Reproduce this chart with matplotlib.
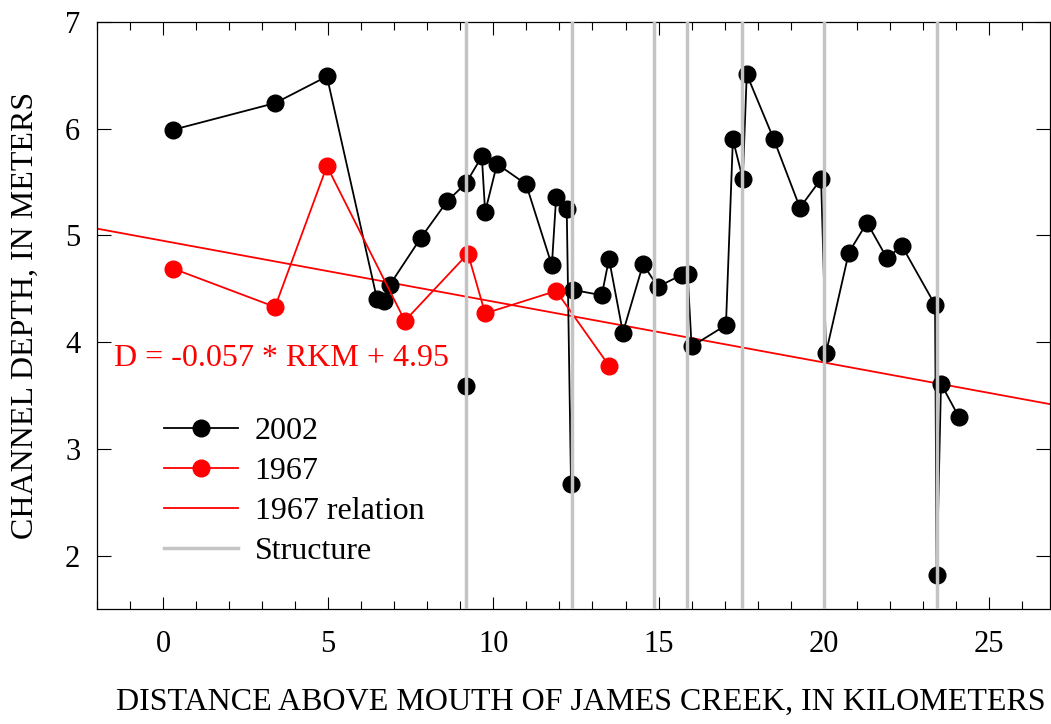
import numpy as np
import matplotlib
matplotlib.use("Agg")
import matplotlib.pyplot as plt
from matplotlib.ticker import MultipleLocator

plt.rcParams['font.family'] = ['Liberation Serif', 'DejaVu Serif']

# 2002 survey: distance above mouth (km) and channel depth (m)
rkm_2002 = [0.30, 3.39, 4.96, 6.48, 6.69, 6.87, 7.81, 8.60, 9.17, 9.65, 9.75, 10.11,
            10.99, 11.77, 11.90, 12.22, 12.35, 12.41, 13.28, 13.50, 13.92, 14.53,
            14.98, 15.70, 15.88, 16.00, 17.04, 17.25, 17.55, 17.67, 18.49, 19.28,
            19.92, 20.07, 20.76, 21.31, 21.91, 22.37, 23.37, 23.42, 23.55, 24.09]
depth_2002 = [5.99, 6.24, 6.49, 4.40, 4.39, 4.54, 4.98, 5.32, 5.49, 5.74, 5.22, 5.67,
              5.48, 4.72, 5.36, 5.25, 2.67, 4.49, 4.44, 4.78, 4.09, 4.73,
              4.52, 4.63, 4.64, 3.96, 4.16, 5.90, 5.53, 6.51, 5.90, 5.26,
              5.53, 3.90, 4.84, 5.12, 4.79, 4.90, 4.35, 1.82, 3.61, 3.30]

# lone 2002 point (not joined)
rkm_2002_single = [9.17]
depth_2002_single = [3.59]

# 1967 survey
rkm_1967 = [0.30, 3.39, 4.96, 7.32, 9.23, 9.75, 11.90, 13.50]
depth_1967 = [4.69, 4.33, 5.65, 4.20, 4.83, 4.27, 4.48, 3.78]

# 1967 relation D = -0.057 * RKM + 4.95
slope = -0.057
intercept = 4.95

# structures
structures = [9.17, 12.37, 14.86, 15.85, 17.53, 20.02, 23.42]

W, H = 1051, 724
fig = plt.figure(figsize=(W / 100, H / 100), dpi=100)
ax = fig.add_axes([97 / W, 1 - 609 / H, (1050 - 97) / W, (609 - 22) / H])

xmin, xmax = -2, 26.85
ax.set_xlim(xmin, xmax)
ax.set_ylim(1.5, 7)

xr = np.array([xmin, xmax])
ax.plot(rkm_2002, depth_2002, color='black', lw=1.3, marker='o', ms=12,
        label='2002', zorder=3)
ax.plot(rkm_2002_single, depth_2002_single, color='black', lw=0, marker='o',
        ms=12, zorder=3)
ax.plot(rkm_1967, depth_1967, color='red', lw=1.3, marker='o', ms=12,
        label='1967', zorder=3)
ax.plot(xr, slope * xr + intercept, color='red', lw=1.3, label='1967 relation',
        zorder=2)
for i, s in enumerate(structures):
    ax.axvline(s, color='#c4c4c4', lw=2.5, zorder=5,
               label='Structure' if i == 0 else None)

ax.text(-1.5, 3.85, 'D = -0.057 * RKM + 4.95', color='red', fontsize=23,
        va='center', ha='left')

ax.xaxis.set_major_locator(MultipleLocator(5))
ax.xaxis.set_minor_locator(MultipleLocator(1))
ax.yaxis.set_major_locator(MultipleLocator(1))
ax.tick_params(which='both', direction='in', top=True, right=True,
               labelsize=22, width=0.8)
ax.tick_params(axis='x', which='major', length=9, pad=15)
ax.tick_params(axis='x', which='minor', length=6)
ax.tick_params(axis='y', which='major', length=10, pad=12)
for sp in ax.spines.values():
    sp.set_linewidth(0.9)

ax.set_xlabel('DISTANCE ABOVE MOUTH OF JAMES CREEK, IN KILOMETERS', fontsize=23,
              labelpad=21, x=0.508)
ax.set_ylabel('CHANNEL DEPTH, IN METERS', fontsize=23, labelpad=18)

ax.legend(loc='upper left', bbox_to_anchor=(0.057, 0.35), frameon=False,
          fontsize=23, handlelength=2.3, handletextpad=0.53, labelspacing=0.34,
          borderaxespad=0)

fig.savefig('out.png', dpi=100)
